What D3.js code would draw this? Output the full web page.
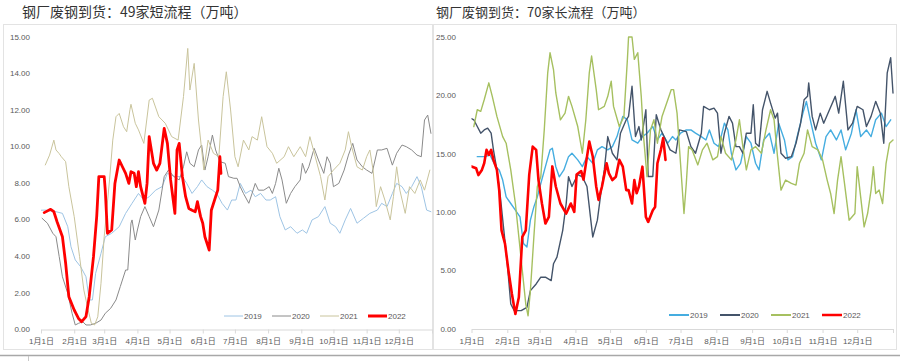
<!DOCTYPE html>
<html><head><meta charset="utf-8">
<script src="https://cdn.jsdelivr.net/npm/d3@7/dist/d3.min.js"></script>
<style>
html,body{margin:0;padding:0;background:#fff;}
svg{display:block;}
text{font-family:"Liberation Sans","Noto Sans CJK SC",sans-serif;}
</style></head>
<body>
<svg id="c" width="900" height="361"></svg>
<script>
// ---------- data ----------
const years = ["2019","2020","2021","2022"];
const monthStarts = [0,31,59,90,120,151,181,212,243,273,304,334,365];
const monthLabels = ["1月1日","2月1日","3月1日","4月1日","5月1日","6月1日","7月1日","8月1日","9月1日","10月1日","11月1日","12月1日",""];

const leftTitle = "钢厂废钢到货：49家短流程（万吨）";
const rightTitle = "钢厂废钢到货：70家长流程（万吨）";

const leftYTicks = [0,2,4,6,8,10,12,14,16];
const leftYTickLabels = ["0.00","2.00","4.00","6.00","8.00","10.00","12.00","14.00","15.00"];
const rightYTicks = [0,5,10,15,20,25];
const rightYTickLabels = ["0.00","5.00","10.00","15.00","20.00","25.00"];

// [day of year, value]
const left2019 = [[0,6.5],[4,6.51],[14,6.42],[20,6.33],[25,5.6],[28,4.5],[32,3.78],[37,3.41],[42,2.86],[45,1.59],[48,1.59],[51,3.05],[56,4.14],[60,5.05],[66,5.24],[73,5.6],[79,6.33],[85,6.88],[91,7.42],[96,7.06],[101,7.24],[107,7.6],[113,7.79],[118,8.52],[125,8.34],[132,8.34],[136,7.97],[141,7.42],[146,7.79],[150,8.16],[155,7.79],[160,7.6],[164,7.42],[169,6.88],[174,6.51],[178,7.06],[182,7.06],[186,7.97],[191,7.42],[196,7.6],[200,7.24],[205,7.42],[210,7.06],[214,7.06],[219,7.24],[223,6.15],[228,5.42],[233,5.6],[239,5.24],[244,5.42],[248,5.24],[253,5.97],[259,6.15],[265,6.7],[270,5.79],[275,5.6],[279,5.24],[284,5.97],[289,6.6],[295,5.79],[301,6.06],[307,6.33],[314,6.51],[318,6.88],[323,6.7],[328,7.42],[332,7.97],[337,7.79],[341,7.42],[346,7.79],[351,8.34],[355,7.79],[360,6.51],[364,6.42]];
const left2020 = [[1,6.06],[6,5.79],[11,5.24],[14,5.05],[17,3.96],[20,2.86],[25,1.95],[29,0.86],[32,0.22],[35,0.31],[39,0.4],[42,0.22],[46,0.22],[51,0.31],[56,0.49],[60,0.86],[65,1.13],[70,1.59],[74,2.32],[79,3.23],[81,3.23],[84,5.79],[85,5.97],[88,4.87],[90,5.42],[93,6.15],[97,6.7],[101,6.15],[105,5.6],[110,6.51],[115,8.34],[119,8.7],[124,8.34],[129,8.16],[133,8.88],[136,9.7],[139,9.07],[143,8.88],[147,9.8],[150,10.07],[153,8.7],[156,9.43],[160,10.62],[163,9.8],[167,9.16],[172,9.07],[175,8.34],[180,8.25],[183,8.25],[186,7.79],[189,7.42],[194,6.88],[197,7.42],[200,7.97],[203,7.6],[208,7.6],[213,7.79],[216,7.42],[219,7.97],[222,8.8],[225,8.16],[229,6.88],[233,7.42],[237,7.79],[242,8.16],[244,9.07],[247,8.52],[250,8.88],[255,9.89],[259,9.25],[264,8.52],[267,9.43],[270,9.07],[273,7.79],[278,7.97],[283,8.7],[287,9.52],[291,10.16],[295,9.25],[300,8.88],[304,8.7],[309,8.52],[314,9.8],[318,9.8],[323,9.89],[328,8.97],[332,9.62],[337,10.07],[341,9.98],[346,9.8],[351,9.52],[355,9.43],[358,11.44],[361,11.71],[364,10.71]];
const left2021 = [[4,8.98],[8,9.52],[12,10.34],[14,9.8],[17,9.6],[19,9.43],[23,9.16],[26,7.79],[31,6.15],[36,3.96],[40,2.13],[44,1.04],[47,0.31],[50,0.22],[53,0.67],[56,2.5],[59,5.05],[64,8.16],[67,10.34],[70,11.62],[73,11.8],[77,11.07],[80,10.8],[83,12.0],[84,12.3],[88,11.26],[91,10.9],[96,10.16],[101,12.53],[104,12.63],[110,11.62],[116,11.26],[122,10.53],[128,10.34],[133,12.72],[137,15.36],[139,13.08],[143,14.54],[147,11.44],[152,8.7],[156,10.34],[161,9.62],[166,9.43],[170,12.72],[173,14.08],[177,11.99],[181,9.43],[184,8.88],[189,10.34],[194,9.8],[197,10.53],[202,10.34],[206,11.62],[211,9.98],[216,9.62],[220,9.07],[227,9.43],[231,9.98],[236,9.43],[242,9.98],[247,9.43],[251,10.53],[256,9.43],[261,8.34],[265,7.06],[268,8.34],[273,8.7],[279,9.07],[284,9.8],[287,10.8],[290,9.98],[295,8.88],[300,8.7],[304,9.43],[307,9.8],[310,8.7],[313,6.7],[317,7.79],[321,7.06],[326,5.97],[329,7.24],[332,8.88],[335,7.6],[340,6.33],[344,7.79],[349,7.42],[354,8.16],[358,7.6],[363,8.7]];
const left2022 = [[3,6.37],[9,6.55],[12,6.42],[15,5.87],[20,5.05],[23,3.6],[26,1.77],[31,1.04],[35,0.58],[38,0.4],[42,0.68],[45,1.77],[49,3.96],[52,6.15],[54,8.34],[59,8.34],[60,7.6],[62,5.24],[66,5.42],[69,7.97],[73,9.25],[76,8.88],[79,8.52],[82,7.97],[84,8.61],[87,8.52],[89,7.79],[91,8.61],[93,7.79],[97,6.88],[99,7.97],[101,10.53],[105,9.07],[108,8.7],[111,9.07],[115,10.98],[118,10.16],[121,8.16],[125,6.33],[127,9.8],[129,10.16],[132,8.34],[135,7.24],[138,6.6],[141,6.5],[144,6.42],[146,6.97],[149,6.15],[151,5.79],[153,5.05],[157,4.32],[159,6.5],[163,7.24],[165,7.6],[167,9.43],[168,8.52]];

const right2019 = [[5,14.74],[12,14.74],[16,14.89],[21,13.88],[24,13.6],[27,12.73],[30,11.29],[34,10.72],[38,10.15],[42,9.57],[45,7.28],[48,6.99],[51,9.29],[54,10.43],[57,11.29],[60,12.44],[64,13.88],[68,15.32],[70,15.46],[73,13.88],[76,13.01],[80,13.6],[84,14.74],[87,15.03],[92,14.46],[96,13.88],[100,14.74],[105,14.17],[109,15.32],[113,15.6],[118,15.32],[122,15.6],[126,16.46],[131,18.19],[135,17.9],[139,16.17],[144,15.89],[148,16.46],[152,16.75],[157,17.32],[161,16.17],[165,16.75],[170,15.89],[174,16.46],[177,16.17],[181,16.75],[186,17.03],[190,17.03],[194,16.75],[199,16.46],[203,16.17],[206,17.03],[210,15.89],[214,15.6],[219,17.61],[222,17.03],[225,15.03],[229,13.6],[233,14.17],[238,16.46],[242,15.89],[246,14.17],[249,13.6],[253,16.17],[258,16.75],[262,15.03],[266,17.61],[271,16.17],[274,14.46],[278,14.74],[282,16.46],[287,18.47],[290,19.48],[294,17.61],[298,15.89],[303,14.46],[307,16.46],[311,17.03],[316,16.17],[320,17.03],[324,15.32],[329,16.75],[333,18.76],[337,16.46],[342,17.03],[346,16.46],[350,17.9],[355,18.47],[359,17.32],[363,17.9]];
const right2020 = [[0,18.0],[2,17.9],[5,17.32],[8,16.75],[11,17.03],[14,17.18],[17,16.75],[19,15.32],[22,13.6],[25,11.29],[28,8.42],[31,5.55],[34,2.1],[37,1.53],[43,1.53],[48,1.82],[51,3.25],[56,3.82],[60,4.4],[64,4.4],[69,4.11],[71,5.55],[74,6.12],[79,8.42],[82,10.72],[84,13.01],[87,12.18],[92,13.2],[96,13.01],[100,12.18],[103,9.57],[105,7.85],[109,9.29],[112,11.58],[115,13.6],[118,16.46],[122,15.03],[126,14.46],[129,16.75],[134,17.9],[136,18.19],[139,20.78],[142,16.46],[145,17.32],[147,16.17],[151,18.76],[153,13.04],[157,13.04],[160,18.33],[164,17.04],[168,16.2],[172,15.32],[177,15.03],[180,17.03],[186,16.89],[190,15.6],[194,15.03],[199,16.75],[201,19.05],[206,18.76],[210,18.9],[213,18.47],[216,15.03],[219,16.75],[223,18.19],[226,17.61],[229,15.6],[232,15.6],[235,15.03],[238,16.75],[242,16.75],[244,19.19],[246,15.89],[249,15.6],[252,18.76],[256,20.34],[259,19.33],[263,18.04],[265,18.47],[268,15.03],[272,14.6],[277,14.74],[281,15.89],[285,17.61],[288,19.62],[291,19.91],[292,21.06],[295,18.19],[298,17.03],[302,18.47],[305,17.61],[310,18.76],[315,19.91],[318,18.47],[322,21.2],[326,17.03],[330,17.61],[334,19.05],[339,18.76],[342,17.32],[346,18.19],[350,19.48],[354,18.47],[357,15.89],[360,21.93],[363,23.22],[365,20.2]];
const right2021 = [[2,17.32],[5,18.76],[8,18.62],[11,19.62],[15,21.07],[18,19.91],[22,18.19],[27,16.46],[30,15.89],[34,13.6],[38,10.72],[41,7.85],[44,4.97],[47,2.1],[49,1.09],[51,3.25],[54,7.85],[57,12.18],[60,13.01],[63,17.03],[66,21.93],[68,23.65],[71,22.21],[73,20.2],[77,17.9],[81,18.47],[84,19.91],[87,19.05],[92,17.32],[96,15.03],[99,17.9],[102,21.93],[104,23.37],[108,20.49],[110,18.76],[115,19.05],[118,19.91],[121,21.21],[123,19.05],[128,17.32],[132,18.19],[135,23.08],[136,25.0],[139,25.0],[141,23.08],[144,23.65],[147,19.91],[149,16.46],[152,13.01],[155,17.03],[158,17.9],[161,15.89],[165,18.19],[170,19.62],[173,20.49],[175,20.49],[178,18.47],[181,14.17],[184,9.86],[186,12.44],[188,15.6],[191,15.32],[196,14.03],[200,15.32],[204,15.89],[209,14.46],[213,14.74],[216,16.46],[220,15.03],[225,14.46],[229,16.17],[232,17.9],[235,15.6],[238,13.6],[242,15.32],[246,15.6],[251,15.03],[255,17.03],[259,18.76],[262,17.9],[265,14.74],[268,11.87],[272,12.73],[277,12.44],[281,12.3],[284,14.17],[288,15.03],[291,17.03],[295,15.6],[300,15.32],[304,14.46],[308,12.73],[311,11.58],[314,9.86],[317,12.73],[320,14.74],[323,12.44],[327,9.29],[332,9.86],[334,13.88],[337,11.29],[340,8.71],[343,9.86],[346,11.87],[348,13.88],[350,11.58],[353,11.87],[356,10.72],[359,14.17],[362,15.89],[365,16.17]];
const right2022 = [[0,13.9],[4,13.74],[6,13.16],[9,13.6],[11,14.17],[13,15.32],[15,14.89],[17,15.32],[19,14.46],[22,13.6],[24,11.87],[26,8.42],[29,7.28],[32,4.97],[35,2.96],[38,1.24],[41,2.68],[44,7.85],[47,8.42],[50,13.2],[53,15.6],[56,15.32],[58,12.73],[61,10.72],[64,9.0],[67,9.57],[70,13.9],[73,12.18],[77,10.72],[82,9.86],[86,10.72],[89,10.0],[91,13.2],[95,13.5],[97,12.77],[102,16.03],[105,14.75],[108,12.18],[110,11.03],[113,12.18],[117,14.17],[119,13.3],[122,12.73],[125,13.01],[128,14.46],[131,13.88],[134,11.87],[136,11.87],[139,10.72],[141,12.73],[143,11.6],[145,12.18],[148,13.88],[151,9.57],[153,9.14],[157,10.15],[159,10.43],[161,14.17],[164,15.32],[166,16.33],[168,14.46]];

// ---------- drawing ----------
const svg = d3.select("#c");

// page furniture
svg.append("rect").attr("x",3.5).attr("y",24.5).attr("width",429).attr("height",325)
  .attr("fill","none").attr("stroke","#e3e3e3");
svg.append("rect").attr("x",433.5).attr("y",24.5).attr("width",463).attr("height",325)
  .attr("fill","none").attr("stroke","#e3e3e3");
svg.append("line").attr("x1",0).attr("x2",900).attr("y1",355.5).attr("y2",355.5)
  .attr("stroke","#a8a8a8").attr("stroke-width",1.5);
svg.append("line").attr("x1",28.5).attr("x2",28.5).attr("y1",356).attr("y2",361)
  .attr("stroke","#c8c8c8");

function panel(cfg){
  const x = d3.scaleLinear().domain([0,365]).range(cfg.xr);
  const y = d3.scaleLinear().domain(cfg.yd).range(cfg.yr);
  const g = svg.append("g");

  // title
  g.append("text").attr("x",cfg.titleX).attr("y",17).text(cfg.title)
    .attr("font-size",cfg.titleSize).attr("fill","#333")
    .style("font-family","'Noto Sans CJK SC',sans-serif");

  // y axis labels
  const ya = d3.axisLeft(y).tickValues(cfg.yTicks)
    .tickFormat((d,i)=>cfg.yLabels[i]).tickSize(0).tickPadding(0);
  const yg = g.append("g").attr("transform",`translate(${cfg.yLabelX},0)`).call(ya);
  yg.select(".domain").remove();
  yg.selectAll("text").attr("font-size",8).attr("fill","#595959")
    .style("font-family","'Liberation Sans',sans-serif");

  // x axis
  const xa = d3.axisBottom(x).tickValues(monthStarts)
    .tickFormat((d,i)=>monthLabels[i]).tickSizeInner(4).tickSizeOuter(0).tickPadding(5);
  const xg = g.append("g").attr("transform",`translate(0,${y(0)+0.5})`).call(xa);
  xg.select(".domain").attr("stroke","#d9d9d9");
  xg.selectAll(".tick line").attr("stroke","#d9d9d9");
  xg.selectAll("text").attr("font-size",8).attr("fill","#595959")
    .style("font-family","'Liberation Sans','Noto Sans CJK SC',sans-serif");

  // clip
  const cid = "clip"+cfg.id;
  svg.append("clipPath").attr("id",cid).append("rect")
    .attr("x",cfg.xr[0]).attr("y",cfg.yr[1]-2).attr("width",cfg.xr[1]-cfg.xr[0]+2)
    .attr("height",cfg.yr[0]-cfg.yr[1]+2);

  const line = d3.line().x(d=>x(d[0])).y(d=>y(d[1]));
  const lg = g.append("g").attr("clip-path",`url(#${cid})`);
  cfg.series.forEach((s,i)=>{
    lg.append("path").attr("d",line(s)).attr("fill","none")
      .attr("stroke",cfg.colors[i]).attr("stroke-width",cfg.widths[i])
      .attr("stroke-linejoin","round").attr("stroke-linecap","round");
  });

  // legend
  const leg = g.append("g").attr("transform",`translate(${cfg.legX},${cfg.legY})`);
  years.forEach((yr,i)=>{
    const lx = i*cfg.legStep;
    leg.append("line").attr("x1",lx).attr("x2",lx+cfg.legLen).attr("y1",0).attr("y2",0)
      .attr("stroke",cfg.colors[i]).attr("stroke-width",cfg.legW[i]);
    leg.append("text").attr("x",lx+cfg.legLen+1).attr("y",3).text(yr)
      .attr("font-size",8).attr("fill","#595959");
  });
}

panel({
  id:"L", title:leftTitle, titleX:22, titleSize:14,
  xr:[41,432], yd:[0,16], yr:[329,36.7],
  yTicks:leftYTicks, yLabels:leftYTickLabels, yLabelX:30,
  series:[left2019,left2020,left2021,left2022],
  colors:["#9ec4e4","#8a8a8a","#c9c49c","#ff0000"],
  widths:[1,1,1,2.8],
  legX:224, legY:316, legStep:48, legLen:19, legW:[1,1,1,3]
});

panel({
  id:"R", title:rightTitle, titleX:436, titleSize:13,
  xr:[471.5,893], yd:[0,25], yr:[328.5,37],
  yTicks:rightYTicks, yLabels:rightYTickLabels, yLabelX:456,
  series:[right2019,right2020,right2021,right2022],
  colors:["#45ade0","#44546a","#a6c060","#ff0000"],
  widths:[1.4,1.4,1.4,2.6],
  legX:669, legY:315, legStep:51, legLen:20, legW:[2,2,2,2.5]
});
</script>
</body></html>
